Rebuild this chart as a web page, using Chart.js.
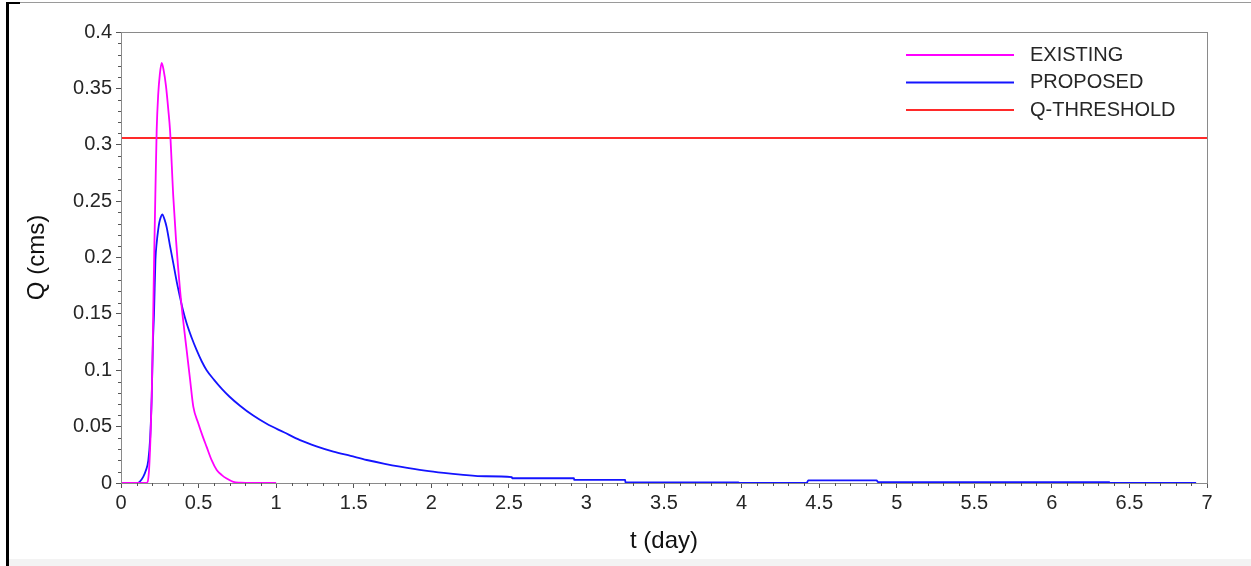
<!DOCTYPE html>
<html>
<head>
<meta charset="utf-8">
<script src="https://cdn.jsdelivr.net/npm/chart.js@4"></script>
<style>
  html, body { margin: 0; padding: 0; background: #fff; }
  #wrap { position: relative; width: 1251px; height: 566px; overflow: hidden; }
  #frame { position: absolute; left: 6px; top: 2px; width: 1245px; height: 564px;
           border-top: 1px solid #9a9a9a; border-left: 3px solid #000; box-sizing: border-box; }
  #corner { position: absolute; left: 6px; top: 2px; width: 14px; height: 2px; background: #000; }
  #band { position: absolute; left: 9px; top: 559px; width: 1242px; height: 7px; background: #f3f3f3; }
  canvas { position: absolute; left: 0; top: 0; }
</style>
</head>
<body>
<div id="wrap">
  <div id="band"></div>
  <div id="frame"></div>
  <div id="corner"></div>
  <canvas id="myChart" width="1251" height="566"></canvas>
</div>
<script>
// ***** Data *****
const tExisting = [0, 0.165, 0.18, 0.19, 0.198, 0.206, 0.213, 0.222, 0.23, 0.24, 0.25, 0.262, 0.275, 0.29,
  0.305, 0.316, 0.337, 0.355, 0.38, 0.4, 0.423, 0.445, 0.466, 0.498, 0.525, 0.552, 0.585, 0.617, 0.65,
  0.681, 0.724, 0.77, 0.85, 1.0];
const qExisting = [0, 0, 0.01, 0.04, 0.0765, 0.135, 0.195, 0.26, 0.313, 0.345, 0.362, 0.3725, 0.366, 0.352,
  0.331, 0.313, 0.254, 0.215, 0.172, 0.145, 0.118, 0.092, 0.0677, 0.053, 0.042, 0.032, 0.02, 0.0115, 0.007,
  0.004, 0.001, 0.0003, 0, 0];

const tProposed = [0, 0.1, 0.12, 0.144, 0.16, 0.176, 0.188, 0.198, 0.206, 0.213, 0.222, 0.23, 0.24, 0.247,
  0.257, 0.266, 0.28, 0.294, 0.315, 0.337, 0.36, 0.38, 0.4, 0.423, 0.455, 0.487, 0.52, 0.552, 0.6, 0.65,
  0.7, 0.767, 0.85, 0.939, 1.05, 1.154, 1.26, 1.369, 1.48, 1.584, 1.7, 1.799, 1.96, 2.08, 2.19, 2.35,
  2.52, 2.521, 2.92, 2.921, 3.25, 3.251, 3.98, 3.981, 4.42, 4.43, 4.87, 4.88, 6.37, 6.371, 6.93];
const qProposed = [0, 0, 0.001, 0.0056, 0.011, 0.02, 0.04, 0.0765, 0.125, 0.151, 0.198, 0.213, 0.225, 0.231,
  0.236, 0.2383, 0.234, 0.227, 0.211, 0.195, 0.178, 0.165, 0.153, 0.1416, 0.129, 0.118, 0.108, 0.1, 0.0915, 0.0835,
  0.0765, 0.0685, 0.06, 0.0525, 0.045, 0.038, 0.0325, 0.0278, 0.024, 0.0204, 0.017, 0.0145, 0.011, 0.009, 0.0075, 0.006,
  0.0052, 0.0042, 0.0042, 0.0027, 0.0027, 0.0006, 0.0006, 0, 0, 0.0024, 0.0024, 0.0007, 0.0007, 0, 0];

const tThreshold = [0, 7];
const qThreshold = 0.306;

const seriesLabels = ['EXISTING', 'PROPOSED', 'Q-THRESHOLD'];
const seriesColors = ['#ff00ff', '#1414ff', '#ff2a2a'];
// ***** Data end *****

const zip = (ts, qs) => ts.map((t, i) => ({ x: t, y: qs[i] }));
const textColor = '#262626';
const axisColor = '#555';
const fontFamily = '"Liberation Sans", Arial, sans-serif';

// Minor ticks and plot frame
const minorTicks = {
  id: 'minorTicks',
  afterDraw: (chart) => {
    const { ctx, chartArea, scales } = chart;
    ctx.save();
    ctx.strokeStyle = '#8a8a8a';
    ctx.lineWidth = 1;
    ctx.strokeRect(chartArea.left + 0.5, chartArea.top + 0.5,
      chartArea.right - chartArea.left, chartArea.bottom - chartArea.top);
    ctx.strokeStyle = axisColor;
    ctx.beginPath();
    for (let i = 0; i <= 70; i++) {
      if (i % 5 === 0) continue;
      const px = Math.round(scales.x.getPixelForValue(i / 10)) + 0.5;
      ctx.moveTo(px, chartArea.bottom);
      ctx.lineTo(px, chartArea.bottom + 3);
    }
    for (let i = 0; i <= 40; i++) {
      if (i % 5 === 0) continue;
      const py = Math.round(scales.y.getPixelForValue(i / 100)) + 0.5;
      ctx.moveTo(chartArea.left, py);
      ctx.lineTo(chartArea.left - 3, py);
    }
    ctx.stroke();
    ctx.restore();
  }
};

// Legend drawn inside the plot, top right
const plotLegend = {
  id: 'plotLegend',
  afterDraw: (chart) => {
    const { ctx, chartArea } = chart;
    ctx.save();
    ctx.font = '20px ' + fontFamily;
    ctx.textBaseline = 'middle';
    ctx.fillStyle = textColor;
    chart.data.datasets.forEach((ds, i) => {
      const y = chartArea.top + 23 + i * 27.5;
      ctx.strokeStyle = ds.borderColor;
      ctx.lineWidth = 2;
      ctx.beginPath();
      ctx.moveTo(chartArea.right - 301, y);
      ctx.lineTo(chartArea.right - 193, y);
      ctx.stroke();
      ctx.fillText(ds.label, chartArea.right - 177, y);
    });
    ctx.restore();
  }
};

const lineDataset = (label, data, color) => ({
  label: label,
  data: data,
  borderColor: color,
  backgroundColor: color,
  borderWidth: 1.8,
  pointRadius: 0,
  cubicInterpolationMode: 'monotone',
  clip: false
});

const tickLabel = (v) => String(Math.round(v * 100) / 100);

const configChart = {
  type: 'line',
  data: {
    datasets: [
      lineDataset(seriesLabels[0], zip(tExisting, qExisting), seriesColors[0]),
      lineDataset(seriesLabels[1], zip(tProposed, qProposed), seriesColors[1]),
      lineDataset(seriesLabels[2], tThreshold.map((t) => ({ x: t, y: qThreshold })), seriesColors[2])
    ]
  },
  options: {
    responsive: false,
    animation: false,
    layout: { padding: { top: 32, right: 44, left: 0, bottom: 0 } },
    plugins: { legend: { display: false }, tooltip: { enabled: false } },
    scales: {
      x: {
        type: 'linear',
        min: 0,
        max: 7,
        afterFit: (scale) => { scale.height = 83; },
        ticks: {
          stepSize: 0.5,
          padding: 3,
          maxRotation: 0,
          color: textColor,
          font: { family: fontFamily, size: 20 },
          callback: tickLabel
        },
        grid: { drawOnChartArea: false, tickLength: 5, tickColor: axisColor },
        border: { color: axisColor },
        title: {
          display: true,
          text: 't (day)',
          color: '#111',
          padding: { top: 0, bottom: 10 },
          font: { family: fontFamily, size: 24 }
        }
      },
      y: {
        min: 0,
        max: 0.4,
        afterFit: (scale) => { scale.width = 121; },
        ticks: {
          stepSize: 0.05,
          padding: 4,
          color: textColor,
          font: { family: fontFamily, size: 20 },
          callback: tickLabel
        },
        grid: { drawOnChartArea: false, tickLength: 5, tickColor: axisColor },
        border: { color: axisColor },
        title: {
          display: true,
          text: 'Q (cms)',
          color: '#111',
          padding: { top: 23, bottom: 0 },
          font: { family: fontFamily, size: 24 }
        }
      }
    }
  },
  plugins: [minorTicks, plotLegend]
};

// Initialize chart
const flowChart = new Chart(document.getElementById('myChart'), configChart);
</script>
</body>
</html>
